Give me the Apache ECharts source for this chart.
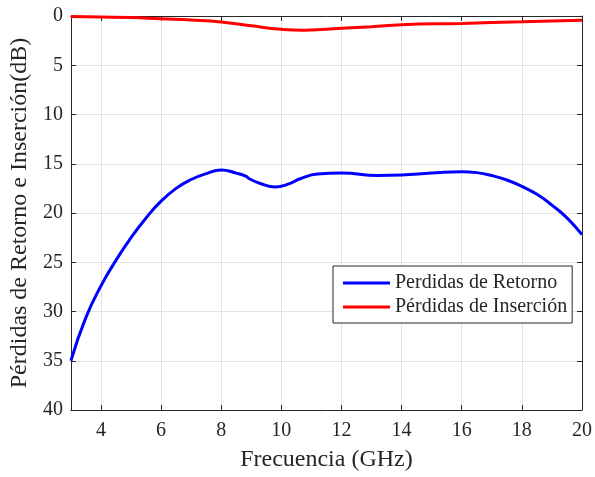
<!DOCTYPE html>
<html>
<head>
<meta charset="utf-8">
<script src="https://cdn.jsdelivr.net/npm/echarts@6/dist/echarts.min.js"></script>
<style>html,body{margin:0;padding:0;background:#fff}#c{width:595px;height:477px}</style>
</head>
<body>
<div id="c"></div>
<script>
const xTicks = [4, 6, 8, 10, 12, 14, 16, 18, 20];
const yTicks = [0, 5, 10, 15, 20, 25, 30, 35, 40];
const rlFreq = [3, 3.5, 4, 4.5, 5, 5.5, 6, 6.5, 7, 7.5, 8, 8.5, 8.85, 8.92, 9.3, 9.8, 10.2, 10.65, 11.2, 12, 13.2, 14, 15, 16, 16.5, 17, 17.5, 18, 18.5, 19, 19.5, 20];
const rlValues = [35.0, 30.6, 27.4, 24.8, 22.5, 20.5, 18.8, 17.5, 16.6, 16.0, 15.64, 15.95, 16.3, 16.5, 17.0, 17.35, 17.1, 16.5, 16.05, 15.95, 16.2, 16.15, 15.95, 15.8, 15.9, 16.2, 16.65, 17.3, 18.1, 19.2, 20.5, 22.2];
const ilFreq = [3, 4, 5, 6, 7, 8, 9, 10, 10.7, 11, 12, 13, 14, 16, 18, 20];
const ilValues = [0.05, 0.1, 0.15, 0.28, 0.4, 0.6, 1.0, 1.35, 1.45, 1.42, 1.25, 1.08, 0.88, 0.75, 0.58, 0.44];
const seriesNames = ['Perdidas de Retorno', 'Pérdidas de Inserción'];

const font = 'Liberation Serif, Times New Roman, serif';
const axisColor = '#262626';
const gridColor = '#e3e3e3';

const chart = echarts.init(document.getElementById('c'), null, {renderer: 'canvas'});
const pair = (xs, ys) => xs.map((x, i) => [x, ys[i]]);

chart.setOption({
  animation: false,
  backgroundColor: '#fff',
  grid: {left: 68, right: 13, top: 16, bottom: 65, containLabel: false},
  legend: {
    show: true,
    orient: 'vertical',
    left: 333, top: 266,
    padding: [7, 5, 6, 10],
    itemGap: 4,
    itemWidth: 47, itemHeight: 3,
    icon: 'rect',
    borderColor: axisColor, borderWidth: 1, borderRadius: 0,
    backgroundColor: '#fff',
    textStyle: {fontFamily: font, fontSize: 20, color: axisColor},
    data: seriesNames
  },
  xAxis: [{
    type: 'value', min: 3, max: 20,
    name: 'Frecuencia (GHz)', nameLocation: 'middle', nameGap: 38,
    nameTextStyle: {fontFamily: font, fontSize: 24, color: axisColor},
    axisLine: {show: true, onZero: false, lineStyle: {color: axisColor, width: 1}},
    axisTick: {show: true, inside: true, length: 5, customValues: xTicks, lineStyle: {color: axisColor}},
    axisLabel: {fontFamily: font, fontSize: 20, color: axisColor, margin: 11, customValues: xTicks},
    splitLine: {show: true, lineStyle: {color: gridColor, width: 1}}
  }, {
    type: 'value', min: 3, max: 20, position: 'top',
    axisLine: {show: true, onZero: false, lineStyle: {color: axisColor, width: 1}},
    axisTick: {show: true, inside: true, length: 5, customValues: xTicks, lineStyle: {color: axisColor}},
    axisLabel: {show: false},
    splitLine: {show: false}
  }],
  yAxis: [{
    type: 'value', min: 0, max: 40, interval: 5, inverse: true,
    name: 'Pérdidas de Retorno e Inserción(dB)', nameLocation: 'middle', nameGap: 37,
    nameTextStyle: {fontFamily: font, fontSize: 24, color: axisColor},
    axisLine: {show: true, onZero: false, lineStyle: {color: axisColor, width: 1}},
    axisTick: {show: true, inside: true, length: 5, lineStyle: {color: axisColor}},
    axisLabel: {fontFamily: font, fontSize: 20, color: axisColor, margin: 8,
      formatter: v => yTicks.includes(v) ? String(v) : ''},
    splitLine: {show: true, lineStyle: {color: gridColor, width: 1}}
  }, {
    type: 'value', min: 0, max: 40, interval: 5, inverse: true, position: 'right',
    axisLine: {show: true, onZero: false, lineStyle: {color: axisColor, width: 1}},
    axisTick: {show: true, inside: true, length: 5, lineStyle: {color: axisColor}},
    axisLabel: {show: false},
    splitLine: {show: false}
  }],
  series: [{
    name: seriesNames[0], type: 'line', xAxisIndex: 0, yAxisIndex: 0,
    data: pair(rlFreq, rlValues), smooth: 0.5, symbol: 'none',
    lineStyle: {color: '#0000ff', width: 3}, itemStyle: {color: '#0000ff'}, z: 3
  }, {
    name: seriesNames[1], type: 'line', xAxisIndex: 0, yAxisIndex: 0,
    data: pair(ilFreq, ilValues), smooth: 0.5, symbol: 'none',
    lineStyle: {color: '#ff0000', width: 3}, itemStyle: {color: '#ff0000'}, z: 3
  }]
});
</script>
</body>
</html>
